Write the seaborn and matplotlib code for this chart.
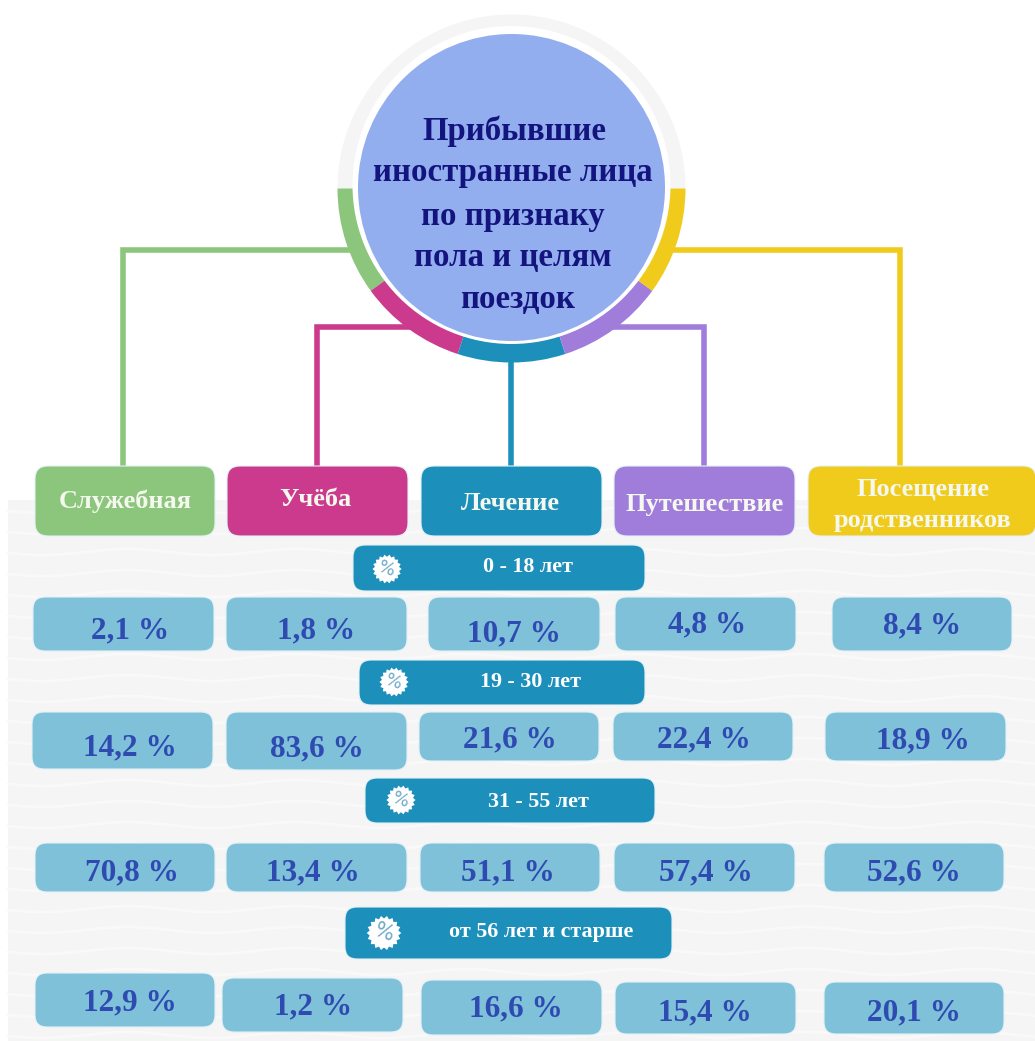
import numpy as np
import pandas as pd
import matplotlib.pyplot as plt
from matplotlib.patches import FancyBboxPatch, Circle, Wedge, Rectangle
from matplotlib.path import Path
import seaborn as sns

# data
purposes = ["Служебная", "Учёба", "Лечение", "Путешествие", "Посещение\nродственников"]
age_groups = ["0 - 18 лет", "19 - 30 лет", "31 - 55 лет", "от 56 лет и старше"]
age_0_18 = [2.1, 1.8, 10.7, 4.8, 8.4]
age_19_30 = [14.2, 83.6, 21.6, 22.4, 18.9]
age_31_55 = [70.8, 13.4, 51.1, 57.4, 52.6]
age_56_up = [12.9, 1.2, 16.6, 15.4, 20.1]
title_lines = ["Прибывшие", "иностранные лица", "по признаку", "пола и целям", "поездок"]

# colours
green = "#8cc67c"
magenta = "#cb3a8c"
teal = "#1d8fbb"
purple = "#a07cdb"
yellow = "#f0cb1b"
purpose_colors = [green, magenta, teal, purple, yellow]
cell_color = "#7fc1d9"
value_color = "#2f4bb2"
title_color = "#14147f"

# layout in pixels of the picture
title_y = [131, 173, 216, 257, 299]
title_x = [514, 513, 513, 513, 518]
head_x = [(35, 215), (227, 408), (421, 602), (614, 795), (808, 1036)]
head_text = [(125, 501), (315, 500), (510, 503), (705, 504), (923, 505)]
age_boxes = [(353, 545, 645, 591), (359, 660, 645, 705), (365, 778, 655, 823), (345, 907, 672, 959)]
age_text = [(528, 567), (531, 682), (538, 802), (541, 932)]
star_x = [387, 394, 401, 384]
star_y = [569, 682, 800, 933]
star_size = [440, 440, 440, 620]
cell_boxes = [
    [(33, 597, 214, 651), (226, 597, 407, 651), (428, 597, 600, 651), (615, 597, 796, 651), (832, 597, 1012, 651)],
    [(32, 712, 213, 769), (226, 712, 407, 770), (419, 712, 599, 761), (613, 712, 793, 761), (825, 712, 1006, 761)],
    [(35, 843, 215, 892), (226, 843, 407, 892), (420, 843, 600, 892), (614, 843, 795, 892), (824, 843, 1004, 892)],
    [(35, 973, 215, 1027), (222, 978, 403, 1032), (421, 980, 602, 1035), (615, 982, 796, 1034), (824, 982, 1004, 1034)],
]
cell_text = [
    [(130, 631), (316, 631), (514, 634), (707, 625), (922, 626)],
    [(130, 748), (317, 749), (510, 740), (704, 740), (923, 741)],
    [(132, 873), (313, 873), (508, 873), (706, 873), (914, 873)],
    [(130, 1003), (313, 1007), (516, 1009), (705, 1013), (914, 1013)],
]

sns.set_theme(style="white")
plt.rcParams["font.family"] = ["Liberation Serif", "DejaVu Serif"]

fig = plt.figure(figsize=(10.35, 10.41), dpi=100)
ax = fig.add_axes([0, 0, 1, 1])
ax.set_xlim(0, 1035)
ax.set_ylim(1041, 0)
ax.axis("off")

# wavy grey background
ax.add_patch(Rectangle((8, 500), 1030, 545, color="#f6f5f5", lw=0, zorder=0))
xs = np.linspace(8, 1035, 300)
for y0 in range(510, 1041, 21):
    ax.plot(xs, y0 + 3 * np.sin(xs / 27), color="#f9f9f9", lw=2, zorder=0.5)

# connectors
line_w = 4.0
ax.plot([123, 123, 350], [466, 250, 250], color=green, lw=line_w, solid_joinstyle="miter", zorder=1)
ax.plot([317, 317, 420], [466, 327, 327], color=magenta, lw=line_w, solid_joinstyle="miter", zorder=1)
ax.plot([511, 511], [466, 355], color=teal, lw=line_w, zorder=1)
ax.plot([704, 704, 603], [466, 327, 327], color=purple, lw=line_w, solid_joinstyle="miter", zorder=1)
ax.plot([900, 900, 670], [466, 250, 250], color=yellow, lw=line_w, solid_joinstyle="miter", zorder=1)

# ring round the circle, the y axis is inverted so angles run clockwise from the right
cx, cy = 511.5, 188.5
ring_r = 174
ax.add_patch(Wedge((cx, cy), ring_r, 180, 360, width=22, color="#f5f5f5", lw=0, zorder=2))
arc_angles = [(144, 180), (108, 144), (72, 108), (36, 72), (0, 36)]
arc_colors = [green, magenta, teal, purple, yellow]
for (a0, a1), col in zip(arc_angles, arc_colors):
    ax.add_patch(Wedge((cx, cy), ring_r, a0, a1, width=22, color=col, lw=0, zorder=2))
ax.add_patch(Circle((cx, 185), 159, color="white", lw=0, zorder=3))
ax.add_patch(Circle((cx, 187.5), 153.5, color="#93aeee", lw=0, zorder=4))

for line, x, y in zip(title_lines, title_x, title_y):
    ax.text(x, y, line, ha="center", va="center", fontsize=23.7, fontweight="bold", color=title_color, zorder=5)


def box(x0, y0, x1, y1, color, rounding=11):
    ax.add_patch(FancyBboxPatch((x0, y0), x1 - x0, y1 - y0, boxstyle=f"round,pad=0,rounding_size={rounding}",
                                facecolor=color, edgecolor="#e3f1f7", lw=0.8, zorder=3))


# purpose headers
for i, name in enumerate(purposes):
    box(head_x[i][0], 466, head_x[i][1], 536, purpose_colors[i], 13)
    tx, ty = head_text[i]
    ax.text(tx, ty, name, ha="center", va="center", fontsize=19, fontweight="bold", color="#f4f8ee",
            linespacing=1.47, zorder=5)

# age bars
for i, name in enumerate(age_groups):
    x0, y0, x1, y1 = age_boxes[i]
    box(x0, y0, x1, y1, teal, 12)
    tx, ty = age_text[i]
    ax.text(tx, ty, name, ha="center", va="center", fontsize=15.8, fontweight="bold", color="white", zorder=5)

# round badge with a small toothed edge
angles = np.linspace(0, 2 * np.pi, 37)
radii = np.where(np.arange(37) % 2 == 0, 1.0, 0.84)
badge = Path(np.column_stack([radii * np.cos(angles), radii * np.sin(angles)]), closed=True)

badges = pd.DataFrame({"x": star_x, "y": star_y, "s": star_size})
sns.scatterplot(data=badges, x="x", y="y", size="s", sizes=(min(star_size), max(star_size)), marker=badge,
                color="white", linewidth=0, legend=False, zorder=5, ax=ax)
for x, y, s in zip(star_x, star_y, star_size):
    ax.text(x, y, "%", ha="center", va="center", fontsize=s ** 0.5 * 0.6, color="#6fa9c8", rotation=-20,
            family="DejaVu Sans", zorder=6)
ax.set_xlim(0, 1035)
ax.set_ylim(1041, 0)
ax.axis("off")

# percent cells
rows = [age_0_18, age_19_30, age_31_55, age_56_up]
for r, values in enumerate(rows):
    for c, v in enumerate(values):
        x0, y0, x1, y1 = cell_boxes[r][c]
        box(x0, y0, x1, y1, cell_color, 12)
        tx, ty = cell_text[r][c]
        label = f"{v:.1f}".replace(".", ",") + " %"
        ax.text(tx, ty, label, ha="center", va="center", fontsize=22.5, fontweight="bold", color=value_color, zorder=5)

fig.savefig("out.png", dpi=100)
